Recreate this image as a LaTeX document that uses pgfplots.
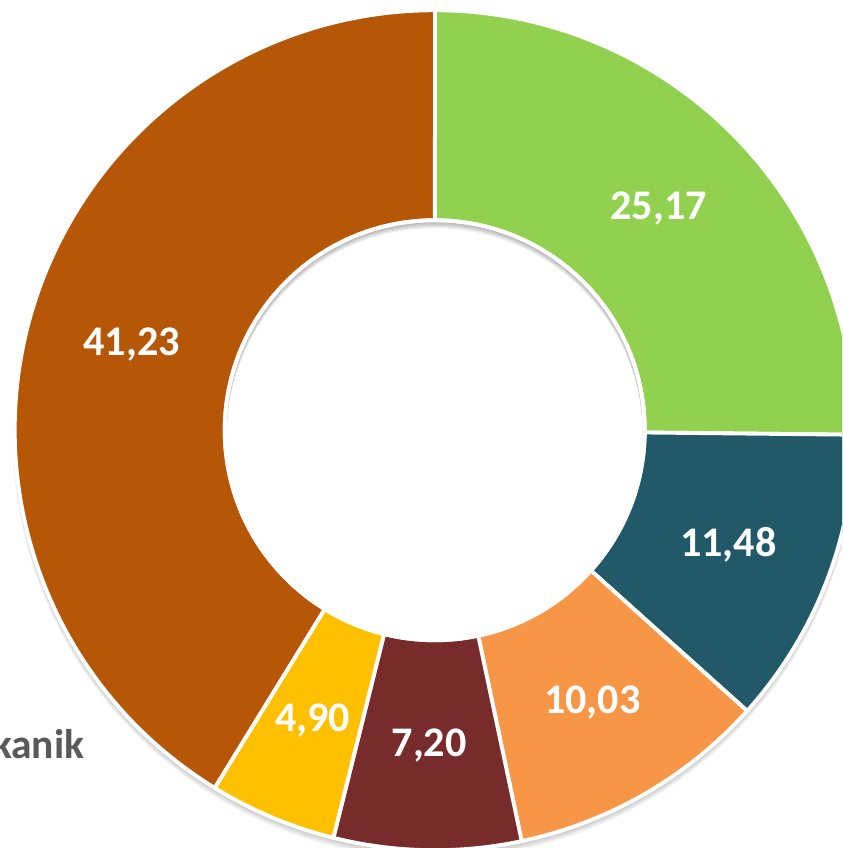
\documentclass[border=0pt]{standalone}
\usepackage{pgfplots}
\pgfplotsset{compat=1.18}
\usepackage{fontspec}
\setmainfont{Carlito}

\definecolor{cGreen}{HTML}{92D050}
\definecolor{cTeal}{HTML}{225968}
\definecolor{cOrange}{HTML}{F79646}
\definecolor{cDarkRed}{HTML}{772B2B}
\definecolor{cYellow}{HTML}{FFC000}
\definecolor{cBrown}{HTML}{B65708}
\definecolor{cLegend}{HTML}{595959}

\begin{document}
\begin{tikzpicture}
\useasboundingbox (0,0) rectangle (8.42,8.48);
\clip (0,0) rectangle (8.42,8.48);
\begin{axis}[
  x=0.01cm, y=0.01cm,
  xmin=0, xmax=842, ymin=0, ymax=848,
  hide axis, clip=false,
  anchor=origin, at={(0,0)},
]
% donut: share in percent, colour, label (clockwise from 12 o'clock)
\pgfplotsextra{
  \begin{scope}[shift={(axis cs:435,418)}]
  % soft shadow under the ring
  \foreach \k in {1,...,5}{
    \fill[black, opacity=0.05, even odd rule]
      (0,-0.012*\k cm) circle[radius=4.2cm+0.004*\k cm]
      (0,0) circle[radius=2.3cm];
  }
  \gdef\s{90}
  \foreach \v/\c/\t in {25.17/cGreen/{25,17}, 11.48/cTeal/{11,48},
      10.03/cOrange/{10,03}, 7.20/cDarkRed/{7,20},
      4.90/cYellow/{4,90}, 41.23/cBrown/{41,23}}{
    \pgfmathsetmacro{\e}{\s-3.6*\v}
    \pgfmathsetmacro{\m}{(\s+\e)/2}
    \filldraw[fill=\c, draw=white, line width=1.1pt, line join=round]
      (\s:4.2cm) arc[start angle=\s, end angle=\e, radius=4.2cm]
      -- (\e:2.1cm) arc[start angle=\e, end angle=\s, radius=2.1cm] -- cycle;
    \node[text=white, font=\bfseries\fontsize{12}{14}\selectfont]
      at (\m:3.15cm) {\t};
    \xdef\s{\e}
  }
  % shadow cast into the hole
  \begin{scope}
    \clip (0,0) circle[radius=2.08cm];
    \foreach \k in {1,...,5}{
      \fill[black, opacity=0.06, even odd rule]
        (0,0) circle[radius=2.2cm]
        (0,-0.012*\k cm) circle[radius=2.08cm];
    }
  \end{scope}
  \draw[white, line width=1.1pt] (0,0) circle[radius=2.1cm];
  \end{scope}
}
\node[anchor=base east, inner sep=0pt, text=cLegend,
  font=\bfseries\fontsize{11.8}{14}\selectfont]
  at (axis cs:85,90) {Mekanik};
\end{axis}
\end{tikzpicture}
\end{document}
